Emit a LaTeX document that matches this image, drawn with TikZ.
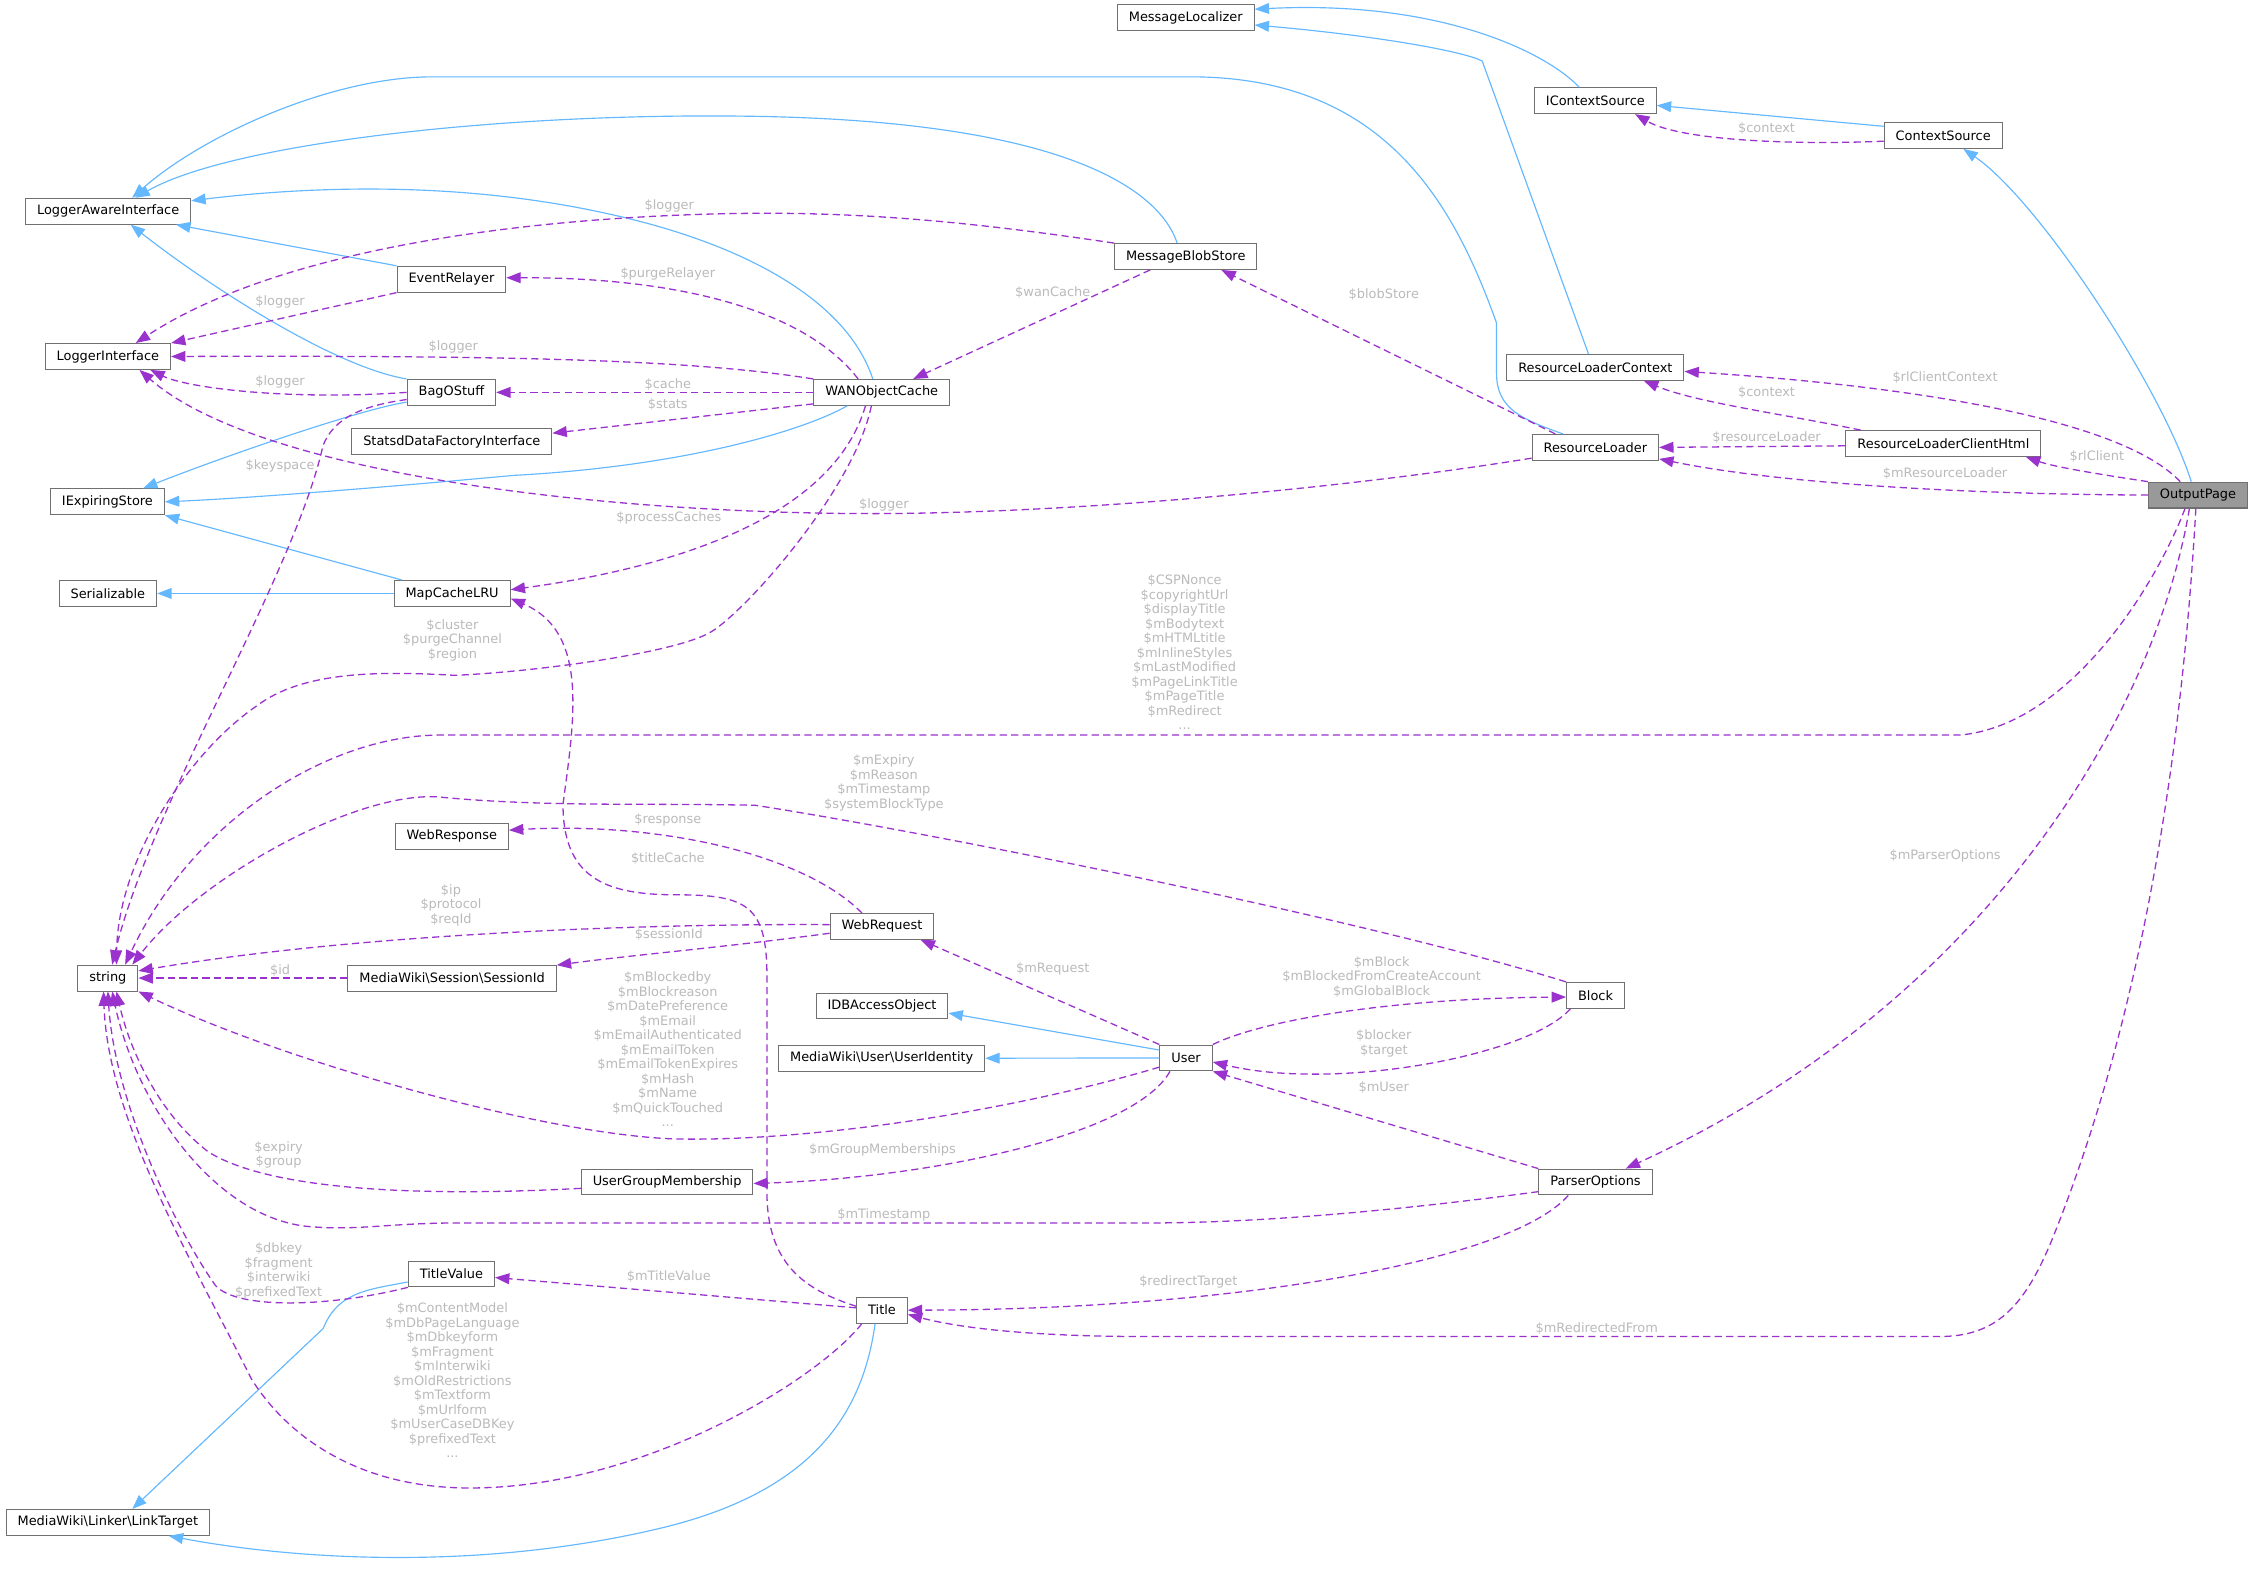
\documentclass[tikz,border=0pt]{standalone}
\usepackage{fontspec}
\setmainfont{DejaVu Sans}
\usetikzlibrary{arrows.meta}
\definecolor{inhblue}{HTML}{63B8FF}
\definecolor{mempurple}{HTML}{9A32CD}
\definecolor{lblgray}{HTML}{BABABA}
\definecolor{boxline}{HTML}{707070}
\definecolor{opfill}{HTML}{999999}
\begin{document}
\begin{tikzpicture}[x=1pt,y=-1pt,
  box/.style={draw=boxline,fill=white,line width=0.7pt,inner xsep=8pt,inner ysep=0pt,minimum height=18pt,font=\fontsize{9}{10.1}\selectfont},
  lbl/.style={text=lblgray,font=\fontsize{9}{10.1}\selectfont,align=center,inner sep=0pt},
  inh/.style={draw=inhblue,line width=0.8pt,-{Triangle[length=10pt,width=7.5pt]}},
  mem/.style={draw=mempurple,line width=0.9pt,dash pattern=on 5pt off 3pt,-{Triangle[length=10pt,width=7.5pt]}}]
\useasboundingbox[fill=white] (0,0) rectangle (1568,1092);

% nodes
\node[box] (ML) at (825.6,12.4) {MessageLocalizer};
\node[box] (ICS) at (1110.8,70.1) {IContextSource};
\node[box] (CS) at (1353.0,94.3) {ContextSource};
\node[box] (LAI) at (75.3,147.1) {LoggerAwareInterface};
\node[box] (MBS) at (825.6,178.6) {MessageBlobStore};
\node[box] (ER) at (314.3,194.4) {EventRelayer};
\node[box] (LI) at (75.1,248.2) {LoggerInterface};
\node[box] (RLC) at (1110.8,255.8) {ResourceLoaderContext};
\node[box] (BOS) at (314.3,273.2) {BagOStuff};
\node[box] (WAN) at (613.9,273.2) {WANObjectCache};
\node[box] (SDF) at (314.6,307.6) {StatsdDataFactoryInterface};
\node[box] (RLCH) at (1353.1,308.8) {ResourceLoaderClientHtml};
\node[box] (RL) at (1110.8,311.5) {ResourceLoader};
\node[box,fill=opfill] (OP) at (1530.4,344.7) {OutputPage};
\node[box] (IES) at (74.8,349.4) {IExpiringStore};
\node[box] (SER) at (75.1,413.2) {Serializable};
\node[box] (MCL) at (314.8,413.2) {MapCacheLRU};
\node[box] (WRS) at (314.6,582.3) {WebResponse};
\node[box] (WRQ) at (614.1,645.0) {WebRequest};
\node[box] (STR) at (75.1,681.0) {string};
\node[box] (SID) at (314.8,681.0) {MediaWiki\textbackslash Session\textbackslash SessionId};
\node[box] (BLK) at (1110.9,693.0) {Block};
\node[box] (IDB) at (614.1,700.4) {IDBAccessObject};
\node[box] (UID) at (613.9,736.8) {MediaWiki\textbackslash User\textbackslash UserIdentity};
\node[box] (USR) at (825.8,736.6) {User};
\node[box] (UGM) at (464.5,823.0) {UserGroupMembership};
\node[box] (PO) at (1110.9,823.0) {ParserOptions};
\node[box] (TV) at (314.3,887.0) {TitleValue};
\node[box] (TTL) at (614.1,912.2) {Title};
\node[box] (LT) at (75.1,1060.0) {MediaWiki\textbackslash Linker\textbackslash LinkTarget};

% inheritance
\draw[inh] ([xshift=-22.5pt]RL.north) .. controls (1060,292) and (1042,285) .. (1042,260) -- (1042,225) .. controls (1010,135) and (960,55) .. (832,53.5) -- (301,53.5) .. controls (230,53.5) and (140,95) .. ([xshift=16.7pt]LAI.north);
\draw[inh] ([xshift=-6pt]MBS.north) .. controls (810,140) and (760,85) .. (526,81) .. controls (350,78) and (160,100) .. ([xshift=19pt]LAI.north);
\draw[inh] (ER.north west) -- ([xshift=47.3pt]LAI.south);
\draw[inh] (BOS.north west) .. controls (230,255) and (140,195) .. ([xshift=15.7pt]LAI.south);
\draw[inh] ([xshift=-6.2pt]WAN.north) .. controls (590,210) and (520,170) .. (424,149) .. controls (330,128) and (230,128) .. ([yshift=-2pt]LAI.north east);
\draw[inh] ([yshift=-6.8pt]BOS.west) .. controls (250,285) and (150,320) .. ([xshift=24.8pt]IES.north);
\draw[inh] ([xshift=-23.9pt]WAN.south) .. controls (555,302) and (470,325) .. (357.5,331) .. controls (260,340) and (170,347) .. (IES.east);
\draw[inh] ([xshift=-34.9pt]MCL.north) -- (IES.south east);
\draw[inh] (MCL.west) -- (SER.east);
\draw[inh] ([xshift=-11.2pt]ICS.north) .. controls (1075,35) and (1000,0) .. ([yshift=6pt]ML.east);
\draw[inh] ([xshift=-4.8pt]RLC.north) -- (1032,42.5) .. controls (1020,36) and (960,25) .. ([yshift=-5pt]ML.east);
\draw[inh] ([yshift=-3pt]CS.north west) -- ([yshift=-3.3pt]ICS.east);
\draw[inh] ([xshift=-4.7pt]OP.north) .. controls (1505,270) and (1420,140) .. ([xshift=14pt]CS.south);
\draw[inh] ([yshift=5.5pt]USR.west) -- ([yshift=-5pt]IDB.east);
\draw[inh] (USR.west) -- (UID.east);
\draw[inh] ([yshift=-5.6pt]TV.west) .. controls (255,898) and (235,900) .. (225,925) -- ([xshift=17pt]LT.north);
\draw[inh] ([xshift=-4.8pt]TTL.south) .. controls (600,990) and (560,1040) .. (460,1064) .. controls (330,1095) and (200,1085) .. ([xshift=42.4pt]LT.south);

% members
\draw[mem] (MBS.north west) .. controls (680,155) and (600,147) .. (510,148.7) .. controls (380,151) and (200,170) .. ([xshift=19.4pt]LI.north);
\draw[mem] (ER.south west) -- (LI.north east);
\draw[mem] ([xshift=-16.4pt]WAN.north) .. controls (560,215) and (470,193) .. ([yshift=1pt]ER.east);
\draw[mem] (WAN.north west) .. controls (480,250) and (350,247.5) .. (LI.east);
\draw[mem] (BOS.west) .. controls (200,279) and (130,270) .. ([xshift=29.6pt]LI.south);
\draw[mem] (WAN.west) -- (BOS.east);
\draw[mem] ([yshift=-8pt]WAN.west) -- ([yshift=6pt]SDF.east);
\draw[mem] ([xshift=-24.8pt]MBS.south) -- ([xshift=21.9pt]WAN.north);
\draw[mem] ([xshift=-27.8pt]RL.north) -- ([xshift=24.8pt]MBS.south);
\draw[mem] ([yshift=-7.5pt]RL.west) .. controls (950,338) and (760,357) .. (612.8,357.6) .. controls (420,358) and (180,330) .. ([xshift=22pt]LI.south);
\draw[mem] ([yshift=-4pt]CS.west) .. controls (1250,101) and (1170,98) .. ([xshift=27.7pt]ICS.south);
\draw[mem] ([xshift=-57.6pt]RLCH.north) .. controls (1240,288) and (1180,280) .. ([xshift=33.8pt]RLC.south);
\draw[mem] ([xshift=-12.4pt]OP.north) .. controls (1480,295) and (1350,270) .. ([yshift=-2.8pt]RLC.east);
\draw[mem] ([yshift=-1.6pt]RLCH.west) -- (RL.east);
\draw[mem] (OP.north west) .. controls (1460,330) and (1430,325) .. ([xshift=57.5pt]RLCH.south);
\draw[mem] (OP.west) .. controls (1350,344) and (1230,335) .. ([yshift=-8pt]RL.east);
\draw[mem] ([xshift=-11.3pt]WAN.south) .. controls (580,360) and (470,395) .. ([yshift=2.6pt]MCL.east);
\draw[mem] ([xshift=-7.2pt]WAN.south) .. controls (595,340) and (520,425) .. (495,440) .. controls (470,455) and (370,468) .. (316.6,470.2) .. controls (260,467) and (210,468) .. (178.7,491.5) .. controls (130,525) and (82,600) .. ([xshift=6pt]STR.north);
\draw[mem] ([yshift=-5pt]BOS.west) .. controls (255,282) and (232,290) .. (224.7,311) .. controls (205,400) and (105,560) .. ([xshift=3pt]STR.north);
\draw[mem] ([xshift=-9pt]OP.south) .. controls (1500,410) and (1440,505) .. (1364.6,511.8) -- (306.4,511.8) .. controls (230,511.8) and (135,570) .. ([xshift=12pt]STR.north);
\draw[mem] (BLK.north west) .. controls (950,640) and (650,580) .. (526,560.7) .. controls (450,559) and (380,562) .. (306.4,555) .. controls (250,550) and (140,610) .. ([xshift=17pt]STR.north);
\draw[mem] ([xshift=-14pt]WRQ.north) .. controls (560,595) and (460,572) .. ([yshift=4.3pt]WRS.east);
\draw[mem] ([yshift=2.7pt]TTL.west) .. controls (560,898) and (534,880) .. (534,830) -- (534,680) .. controls (534,630) and (520,623) .. (470,623) .. controls (420,623) and (392,610) .. (392,560) .. controls (400,500) and (410,440) .. ([yshift=-3.5pt]MCL.east);
\draw[mem] ([yshift=1.2pt]WRQ.west) .. controls (450,643) and (250,650) .. ([yshift=5pt]STR.east);
\draw[mem] ([yshift=-4.8pt]WRQ.west) .. controls (500,660) and (440,665) .. ([yshift=9pt]SID.east);
\draw[mem] (SID.west) -- (STR.east);
\draw[mem] (USR.north west) -- ([xshift=26.9pt]WRQ.south);
\draw[mem] (USR.north east) .. controls (880,710) and (970,695) .. ([yshift=-1.2pt]BLK.west);
\draw[mem] ([xshift=-17.5pt]BLK.south) .. controls (1065,735) and (930,760) .. ([yshift=-2.8pt]USR.east);
\draw[mem] (PO.north west) -- (USR.south east);
\draw[mem] ([yshift=-6.4pt]USR.west) .. controls (700,775) and (560,795) .. (470,793) .. controls (380,790) and (200,740) .. (STR.south east);
\draw[mem] ([xshift=-11.2pt]USR.south) .. controls (790,790) and (650,820) .. ([yshift=-1pt]UGM.east);
\draw[mem] ([yshift=-4.4pt]UGM.west) .. controls (300,833) and (190,830) .. (145,802) .. controls (110,775) and (90,730) .. ([xshift=6pt]STR.south);
\draw[mem] ([yshift=-6.7pt]PO.west) .. controls (980,842) and (880,851.5) .. (800,851.5) -- (320,851.5) .. controls (270,851.5) and (250,857) .. (215,854) .. controls (150,848) and (95,770) .. ([xshift=3pt]STR.south);
\draw[mem] ([xshift=-6pt]OP.south) .. controls (1500,500) and (1380,700) .. ([xshift=21pt]PO.north);
\draw[mem] ([xshift=-19pt]PO.south) .. controls (1050,880) and (850,912) .. (TTL.east);
\draw[mem] ([xshift=-1.5pt]OP.south) .. controls (1515,600) and (1470,760) .. (1430,860) .. controls (1410,910) and (1390,930.6) .. (1350,930.6) -- (800,930.6) .. controls (720,930.6) and (670,925) .. ([yshift=-3pt]TTL.east);
\draw[mem] ([yshift=1.6pt]TTL.west) -- ([yshift=-2.5pt]TV.east);
\draw[mem] (TV.south west) .. controls (230,910) and (165,912) .. (150,895) .. controls (125,860) and (80,770) .. (STR.south);
\draw[mem] ([xshift=-14pt]TTL.south) .. controls (570,960) and (450,1035) .. (330,1036) .. controls (250,1037) and (200,1000) .. (175,960) .. controls (135,880) and (75,780) .. ([xshift=-3pt]STR.south);

% labels
\node[lbl] (la) at (466,143.5) {\$logger};
\node[lbl] (lb) at (195,210.4) {\$logger};
\node[lbl] (lc) at (465,190.8) {\$purgeRelayer};
\node[lbl] (ld) at (315.6,241.7) {\$logger};
\node[lbl] (le) at (195,266) {\$logger};
\node[lbl] (lf) at (465,267.8) {\$cache};
\node[lbl] (lg) at (465,281.8) {\$stats};
\node[lbl] (lh) at (733,204) {\$wanCache};
\node[lbl] (li) at (963.5,205) {\$blobStore};
\node[lbl] (lj) at (615.4,351.7) {\$logger};
\node[lbl] (lk) at (1230,89.5) {\$context};
\node[lbl] (ll) at (1230,273.6) {\$context};
\node[lbl] (lm) at (1354.3,262.9) {\$rlClientContext};
\node[lbl] (ln) at (1230,304.7) {\$resourceLoader};
\node[lbl] (lo) at (1460,317.8) {\$rlClient};
\node[lbl] (lp) at (1354.3,330) {\$mResourceLoader};
\node[lbl] (lq) at (465.7,360.6) {\$processCaches};
\node[lbl] (lr) at (315,445.7) {\$cluster\\\$purgeChannel\\\$region};
\node[lbl] (ls) at (195,324.5) {\$keyspace};
\node[lbl] (lt) at (824.8,454.3) {\$CSPNonce\\\$copyrightUrl\\\$displayTitle\\\$mBodytext\\\$mHTMLtitle\\\$mInlineStyles\\\$mLastModified\\\$mPageLinkTitle\\\$mPageTitle\\\$mRedirect\\...};
\node[lbl] (lu) at (615.4,545) {\$mExpiry\\\$mReason\\\$mTimestamp\\\$systemBlockType};
\node[lbl] (lv) at (465,570.7) {\$response};
\node[lbl] (lw) at (465,598) {\$titleCache};
\node[lbl] (lx) at (314,630.3) {\$ip\\\$protocol\\\$reqId};
\node[lbl] (ly) at (465.7,650.8) {\$sessionId};
\node[lbl] (lz) at (195,675.5) {\$id};
\node[lbl] (laa) at (733,674.3) {\$mRequest};
\node[lbl] (lbb) at (962,680.1) {\$mBlock\\\$mBlockedFromCreateAccount\\\$mGlobalBlock};
\node[lbl] (lcc) at (963.5,726.6) {\$blocker\\\$target};
\node[lbl] (ldd) at (963.5,757) {\$mUser};
\node[lbl] (lee) at (464.9,730.6) {\$mBlockedby\\\$mBlockreason\\\$mDatePreference\\\$mEmail\\\$mEmailAuthenticated\\\$mEmailToken\\\$mEmailTokenExpires\\\$mHash\\\$mName\\\$mQuickTouched\\...};
\node[lbl] (lff) at (614.4,801) {\$mGroupMemberships};
\node[lbl] (lgg) at (194,804) {\$expiry\\\$group};
\node[lbl] (lhh) at (615.4,846) {\$mTimestamp};
\node[lbl] (lii) at (1354.3,596) {\$mParserOptions};
\node[lbl] (ljj) at (827.4,892.6) {\$redirectTarget};
\node[lbl] (lkk) at (1111.8,925.2) {\$mRedirectedFrom};
\node[lbl] (lll) at (465.7,889) {\$mTitleValue};
\node[lbl] (lmm) at (194,884.8) {\$dbkey\\\$fragment\\\$interwiki\\\$prefixedText};
\node[lbl] (lnn) at (315,961) {\$mContentModel\\\$mDbPageLanguage\\\$mDbkeyform\\\$mFragment\\\$mInterwiki\\\$mOldRestrictions\\\$mTextform\\\$mUrlform\\\$mUserCaseDBKey\\\$prefixedText\\...};
\end{tikzpicture}
\end{document}
